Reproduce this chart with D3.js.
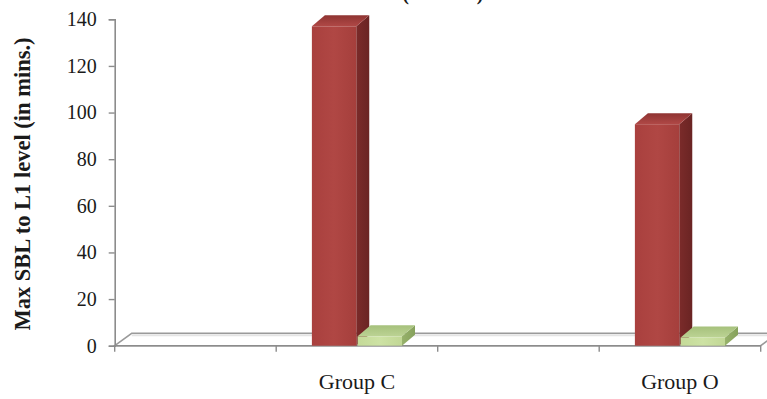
<!DOCTYPE html>
<html>
<head>
<meta charset="utf-8">
<script src="https://cdn.jsdelivr.net/npm/d3@7"></script>
<style>
  html, body { margin: 0; padding: 0; background: #ffffff; }
  svg { display: block; }
  text { font-family: "Liberation Serif", "DejaVu Serif", serif; fill: #1a1a1a; }
</style>
</head>
<body>
<svg id="chart" width="767" height="399"></svg>
<script>
// Category slots along the x axis (two slots carry no label)
const categories = ["", "Group C", "", "Group O"];
// Series values (minutes)
const seriesNames = ["Max SBL", "L1 level"];
const maxSbl = [null, 137, null, 95];
const l1Level = [null, 4, null, 3.5];
const yTicks = [0, 20, 40, 60, 80, 100, 120, 140];

const svg = d3.select("#chart");
const W = 767, H = 399;
const plot = { left: 114.7, right: 760.7, top: 19.3, bottom: 345.7 };
const depth = { dx: 13, dy: -11 };       // 3D offset of bar tops/sides
const floorDepth = { dx: 17, dy: -12.4 }; // 3D offset of the floor

const x = d3.scaleBand().domain(d3.range(categories.length)).range([plot.left, plot.right]).padding(0);
const xs = d3.scaleBand().domain(seriesNames).range([0, x.bandwidth()]).paddingInner(0.03).paddingOuter(0.78);
const y = d3.scaleLinear().domain([0, 140]).range([plot.bottom, plot.top]);

const defs = svg.append("defs");
function grad(id, stops, x2, y2) {
  const g = defs.append("linearGradient").attr("id", id)
    .attr("x1", 0).attr("y1", 0).attr("x2", x2).attr("y2", y2);
  stops.forEach(([o, c]) => g.append("stop").attr("offset", o).attr("stop-color", c));
}
grad("redFront", [[0, "#a9403e"], [0.5, "#b04744"], [1, "#a53f3c"]], 1, 0);
grad("redSide", [[0, "#7b2b2a"], [1, "#6a2423"]], 1, 0);
grad("redTop", [[0, "#8f3432"], [1, "#b04846"]], 0, 1);
grad("greenFront", [[0, "#c4da98"], [0.5, "#cde2a4"], [1, "#c1d795"]], 1, 0);
grad("greenSide", [[0, "#97b26b"], [1, "#86a15c"]], 1, 0);
grad("greenTop", [[0, "#a6c17c"], [1, "#bcd394"]], 0, 1);

// Chart title, running off the top edge
svg.append("text")
  .attr("x", 400).attr("y", -0.5)
  .attr("text-anchor", "middle")
  .attr("font-size", 20).attr("font-weight", "bold")
  .attr("fill", "#555")
  .text("Max SBL (in mins.)");

// Floor of the 3D plot
const fl = [
  [plot.left, plot.bottom],
  [plot.right, plot.bottom],
  [plot.right + floorDepth.dx, plot.bottom + floorDepth.dy],
  [plot.left + floorDepth.dx, plot.bottom + floorDepth.dy]
];
svg.append("polygon")
  .attr("points", fl.map(p => p.join(",")).join(" "))
  .attr("fill", "#ffffff")
  .attr("stroke", "#9a9a9a")
  .attr("stroke-width", 1.6);
svg.append("line")
  .attr("x1", plot.left + floorDepth.dx).attr("x2", W)
  .attr("y1", plot.bottom + floorDepth.dy + 2).attr("y2", plot.bottom + floorDepth.dy + 2)
  .attr("stroke", "#e4e4e4").attr("stroke-width", 2);

// Y axis
const yAxis = svg.append("g")
  .attr("transform", `translate(${plot.left},0)`)
  .call(d3.axisLeft(y).tickValues(yTicks).tickSize(6).tickPadding(12).tickFormat(d3.format("d")));
yAxis.select(".domain").attr("stroke", "#8c8c8c").attr("stroke-width", 1.6);
yAxis.selectAll(".tick line").attr("stroke", "#8c8c8c").attr("stroke-width", 1.4);
yAxis.selectAll(".tick text")
  .attr("font-size", 20)
  .attr("font-family", "Liberation Serif, serif")
  .attr("fill", "#1a1a1a");

// X axis line, slot-boundary ticks and category labels
svg.append("line")
  .attr("x1", plot.left).attr("x2", plot.right)
  .attr("y1", plot.bottom).attr("y2", plot.bottom)
  .attr("stroke", "#8c8c8c").attr("stroke-width", 1.6);
const edges = categories.map((c, i) => x(i)).concat([x(categories.length - 1) + x.bandwidth()]);
svg.selectAll("line.xtick").data(edges).join("line")
  .attr("class", "xtick")
  .attr("x1", d => d).attr("x2", d => d)
  .attr("y1", plot.bottom).attr("y2", plot.bottom + 6)
  .attr("stroke", "#8c8c8c").attr("stroke-width", 1.4);
svg.selectAll("text.xlab").data(categories).join("text")
  .attr("class", "xlab")
  .attr("x", (d, i) => x(i) + x.bandwidth() / 2)
  .attr("y", 389)
  .attr("text-anchor", "middle")
  .attr("font-size", 22)
  .text(d => d);

// Y axis title
svg.append("text")
  .attr("transform", `translate(30,184) rotate(-90)`)
  .attr("text-anchor", "middle")
  .attr("font-size", 22.5).attr("font-weight", "bold")
  .text("Max SBL to L1 level (in mins.)");

// 3D bars: front face, side face, top face
const fills = {
  "Max SBL": ["url(#redFront)", "url(#redSide)", "url(#redTop)"],
  "L1 level": ["url(#greenFront)", "url(#greenSide)", "url(#greenTop)"]
};
const bars = [];
categories.forEach((c, i) => {
  [maxSbl, l1Level].forEach((vals, s) => {
    if (vals[i] != null) bars.push({ i, series: seriesNames[s], value: vals[i] });
  });
});
const gBars = svg.append("g");
bars.forEach(b => {
  const x0 = x(b.i) + xs(b.series);
  const x1 = x0 + xs.bandwidth();
  const y0 = y(b.value);
  const y1 = y(0);
  const [front, side, topF] = fills[b.series];
  const g = gBars.append("g");
  g.append("polygon")
    .attr("points", [[x1, y0], [x1 + depth.dx, y0 + depth.dy], [x1 + depth.dx, y1 + depth.dy], [x1, y1]].map(p => p.join(",")).join(" "))
    .attr("fill", side);
  g.append("polygon")
    .attr("points", [[x0, y0], [x0 + depth.dx, y0 + depth.dy], [x1 + depth.dx, y0 + depth.dy], [x1, y0]].map(p => p.join(",")).join(" "))
    .attr("fill", topF);
  g.append("rect")
    .attr("x", x0).attr("y", y0)
    .attr("width", x1 - x0).attr("height", y1 - y0)
    .attr("fill", front);
});
</script>
</body>
</html>
